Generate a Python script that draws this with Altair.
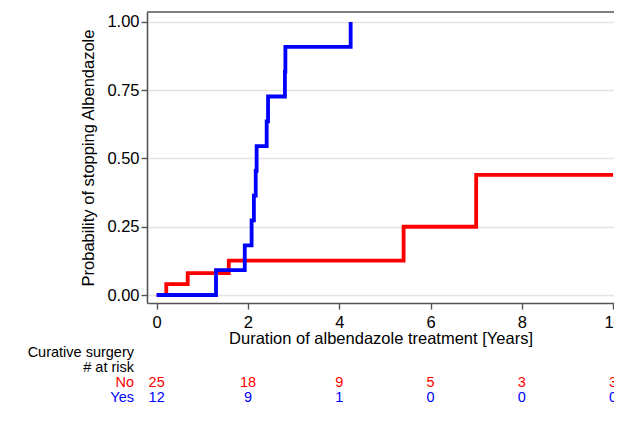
import altair as alt
import pandas as pd

# Kaplan-Meier style cumulative curves (time in years, probability)
no_t = [0, 0.21, 0.68, 1.58, 5.41, 7.0, 10.0]
no_p = [0, 0.04, 0.08, 0.126, 0.25, 0.44, 0.44]
yes_t = [0, 1.30, 1.93, 2.08, 2.13, 2.17, 2.19, 2.41, 2.44, 2.81, 2.82, 4.25]
yes_p = [0, 0.091, 0.182, 0.273, 0.364, 0.455, 0.545, 0.636, 0.727, 0.818, 0.909, 1.0]

# Number at risk table
risk_t = [0, 2, 4, 6, 8, 10]
risk_no = [25, 18, 9, 5, 3, 3]
risk_yes = [12, 9, 1, 0, 0, 0]

RED = "#ff0000"
BLUE = "#0000ff"
FONT = "Liberation Sans"
FS = 16.5
TFS = 14.5
W, H = 467, 291

no_df = pd.DataFrame({"x": no_t, "p": no_p})
yes_df = pd.DataFrame({"x": yes_t, "p": yes_p})
risk_df = pd.DataFrame({"x": risk_t, "n_no": risk_no, "n_yes": risk_yes})

xenc = alt.X(
    "x:Q",
    scale=alt.Scale(domain=[-0.212, 10.02], nice=False, zero=False),
    axis=alt.Axis(values=risk_t, format="d", grid=False, labelFlush=False,
                  title="Duration of albendazole treatment [Years]",
                  labelPadding=5, titlePadding=0),
)
yenc = alt.Y(
    "p:Q",
    scale=alt.Scale(domain=[-0.0293, 1.0366], nice=False, zero=False),
    axis=alt.Axis(values=[0, 0.25, 0.5, 0.75, 1.0], format=".2f", grid=True, labelFlush=False,
                  gridColor="#e3e3e3", gridWidth=1.3,
                  title="Probability of stopping Albendazole",
                  labelPadding=2, titlePadding=10),
)

red_line = alt.Chart(no_df).mark_line(interpolate="step-after", color=RED, strokeWidth=3.8).encode(x=xenc, y=yenc)
blue_line = alt.Chart(yes_df).mark_line(interpolate="step-after", color=BLUE, strokeWidth=3.8).encode(x=xenc, y=yenc)

top_rule = alt.Chart(pd.DataFrame({"a": [0]})).mark_rule(color="#555555", strokeWidth=1.5).encode(
    x=alt.value(0), x2=alt.value(W), y=alt.value(0)
)

no_nums = alt.Chart(risk_df).mark_text(fontSize=TFS, font=FONT, color=RED, baseline="middle").encode(
    x=xenc, y=alt.value(371), text="n_no:Q"
)
yes_nums = alt.Chart(risk_df).mark_text(fontSize=TFS, font=FONT, color=BLUE, baseline="middle").encode(
    x=xenc, y=alt.value(386), text="n_yes:Q"
)

lab_df = pd.DataFrame({"a": [0]})
def label(txt, ypix, color):
    return alt.Chart(lab_df).mark_text(text=txt, fontSize=TFS, font=FONT, color=color,
                                       align="right", baseline="middle").encode(
        x=alt.value(-13), y=alt.value(ypix))

chart = alt.layer(
    red_line, blue_line, top_rule, no_nums, yes_nums,
    label("Curative surgery", 341, "#000000"),
    label("# at risk", 356, "#000000"),
    label("No", 371, RED),
    label("Yes", 386, BLUE),
).properties(
    width=W, height=H,
    autosize=alt.AutoSizeParams(type="none"),
    padding={"left": 139, "top": 4, "right": 0, "bottom": 101},
).configure_view(strokeWidth=0).configure_axis(
    labelFont=FONT, titleFont=FONT, labelFontSize=FS, titleFontSize=FS,
    titleFontWeight="normal", labelColor="#000000", titleColor="#000000",
    domainColor="#555555", tickColor="#555555", domainWidth=1.6, tickWidth=1.4, tickSize=6,
)

chart.save("out.html", embed_options={"renderer": "svg", "actions": False})
